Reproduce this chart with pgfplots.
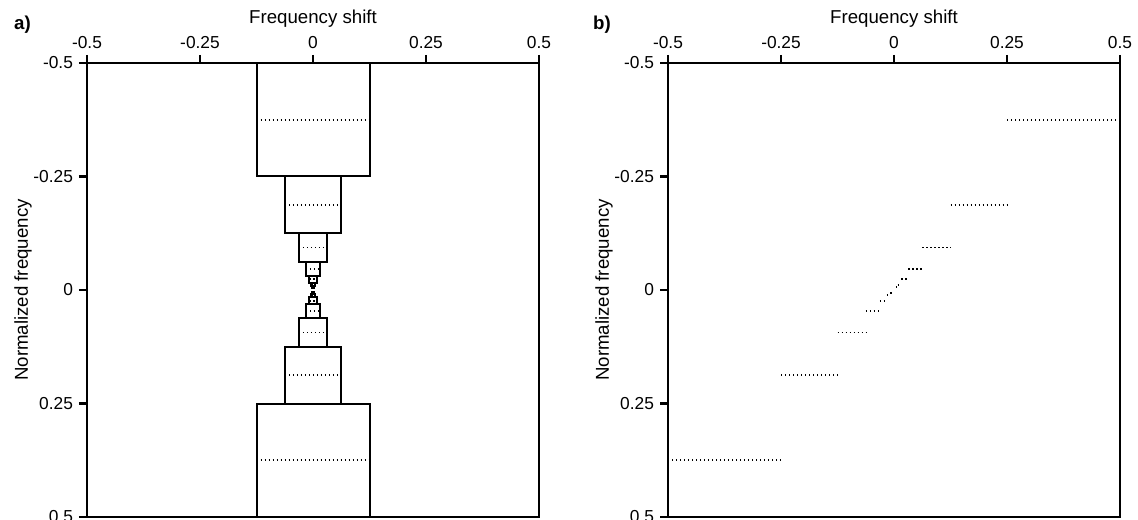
\documentclass[border=0pt]{standalone}
\usepackage{fontspec}
\setmainfont{Liberation Sans}
\usepackage{pgfplots}
\pgfplotsset{compat=1.18}
\begin{document}
\fontsize{13pt}{15pt}\selectfont
\begin{tikzpicture}
\pgfplotsset{
 myax/.style={
  scale only axis, width=339pt, height=340.5pt,
  xmin=-0.5,xmax=0.5,ymin=-0.5,ymax=0.5, y dir=reverse,
  xtick={-0.5,-0.25,0,0.25,0.5}, xticklabels={-0.5,-0.25,0,0.25,0.5},
  ytick={-0.5,-0.25,0,0.25,0.5}, yticklabels={-0.5,-0.25,0,0.25,0.5},
  xtick pos=upper, xticklabel pos=upper, ytick pos=left,
  tick align=outside, major tick length=6pt,
  every tick/.style={black, line width=1.6pt},
  axis line style={line width=2pt},
  xlabel={Frequency shift}, ylabel={Normalized frequency},
  label style={font=\fontsize{14pt}{16pt}\selectfont},
  xlabel style={yshift=-2pt},
  ylabel style={at={(axis description cs:-0.1416,0.5)}, anchor=center},
  unbounded coords=jump, clip=false,
 },
 boxst/.style={black, line width=1.5pt, no markers},
 dotst/.style={black, line width=1.4pt, dash pattern=on 1.1pt off 1.9pt, no markers},
}
\begin{axis}[myax, anchor=south west, at={(65.25pt,2.25pt)}]
\addplot[boxst] coordinates {
(-0.125,-0.5)(0.125,-0.5)(0.125,-0.25)(-0.125,-0.25)(-0.125,-0.5) (nan,nan)
(-0.0625,-0.25)(0.0625,-0.25)(0.0625,-0.125)(-0.0625,-0.125)(-0.0625,-0.25) (nan,nan)
(-0.03125,-0.125)(0.03125,-0.125)(0.03125,-0.0625)(-0.03125,-0.0625)(-0.03125,-0.125) (nan,nan)
(-0.015625,-0.0625)(0.015625,-0.0625)(0.015625,-0.03125)(-0.015625,-0.03125)(-0.015625,-0.0625) (nan,nan)
(-0.0078125,-0.03125)(0.0078125,-0.03125)(0.0078125,-0.015625)(-0.0078125,-0.015625)(-0.0078125,-0.03125) (nan,nan)
(-0.00390625,-0.015625)(0.00390625,-0.015625)(0.00390625,-0.0078125)(-0.00390625,-0.0078125)(-0.00390625,-0.015625) (nan,nan)
(-0.001953125,-0.0078125)(0.001953125,-0.0078125)(0.001953125,-0.00390625)(-0.001953125,-0.00390625)(-0.001953125,-0.0078125) (nan,nan)
(-0.125,0.5)(0.125,0.5)(0.125,0.25)(-0.125,0.25)(-0.125,0.5) (nan,nan)
(-0.0625,0.25)(0.0625,0.25)(0.0625,0.125)(-0.0625,0.125)(-0.0625,0.25) (nan,nan)
(-0.03125,0.125)(0.03125,0.125)(0.03125,0.0625)(-0.03125,0.0625)(-0.03125,0.125) (nan,nan)
(-0.015625,0.0625)(0.015625,0.0625)(0.015625,0.03125)(-0.015625,0.03125)(-0.015625,0.0625) (nan,nan)
(-0.0078125,0.03125)(0.0078125,0.03125)(0.0078125,0.015625)(-0.0078125,0.015625)(-0.0078125,0.03125) (nan,nan)
(-0.00390625,0.015625)(0.00390625,0.015625)(0.00390625,0.0078125)(-0.00390625,0.0078125)(-0.00390625,0.015625) (nan,nan)
(-0.001953125,0.0078125)(0.001953125,0.0078125)(0.001953125,0.00390625)(-0.001953125,0.00390625)(-0.001953125,0.0078125)
};
\addplot[dotst] coordinates {
(-0.125,-0.375)(0.125,-0.375) (nan,nan)
(-0.0625,-0.1875)(0.0625,-0.1875) (nan,nan)
(-0.03125,-0.09375)(0.03125,-0.09375) (nan,nan)
(-0.015625,-0.046875)(0.015625,-0.046875) (nan,nan)
(-0.0078125,-0.0234375)(0.0078125,-0.0234375) (nan,nan)
(-0.00390625,-0.01171875)(0.00390625,-0.01171875) (nan,nan)
(-0.125,0.375)(0.125,0.375) (nan,nan)
(-0.0625,0.1875)(0.0625,0.1875) (nan,nan)
(-0.03125,0.09375)(0.03125,0.09375) (nan,nan)
(-0.015625,0.046875)(0.015625,0.046875) (nan,nan)
(-0.0078125,0.0234375)(0.0078125,0.0234375) (nan,nan)
(-0.00390625,0.01171875)(0.00390625,0.01171875)
};
\end{axis}
\begin{axis}[myax, anchor=south west, at={(501pt,2.25pt)}]
\addplot[dotst] coordinates {
(0.25,-0.375)(0.5,-0.375) (nan,nan)
(0.125,-0.1875)(0.25,-0.1875) (nan,nan)
(0.0625,-0.09375)(0.125,-0.09375) (nan,nan)
(0.03125,-0.046875)(0.0625,-0.046875) (nan,nan)
(0.015625,-0.0234375)(0.03125,-0.0234375) (nan,nan)
(0.0078125,-0.01171875)(0.015625,-0.01171875) (nan,nan)
(0.00390625,-0.005859375)(0.0078125,-0.005859375) (nan,nan)
(-0.5,0.375)(-0.25,0.375) (nan,nan)
(-0.25,0.1875)(-0.125,0.1875) (nan,nan)
(-0.125,0.09375)(-0.0625,0.09375) (nan,nan)
(-0.0625,0.046875)(-0.03125,0.046875) (nan,nan)
(-0.03125,0.0234375)(-0.015625,0.0234375) (nan,nan)
(-0.015625,0.01171875)(-0.0078125,0.01171875) (nan,nan)
(-0.0078125,0.005859375)(-0.00390625,0.005859375)
};
\end{axis}
\node[font=\fontsize{14pt}{16pt}\selectfont\bfseries] at (16.9pt,371.25pt) {a)};
\node[font=\fontsize{14pt}{16pt}\selectfont\bfseries] at (451.5pt,371.25pt) {b)};
\pgfresetboundingbox
\path[use as bounding box] (0,0) rectangle (853.5pt,390pt);
\end{tikzpicture}
\end{document}
